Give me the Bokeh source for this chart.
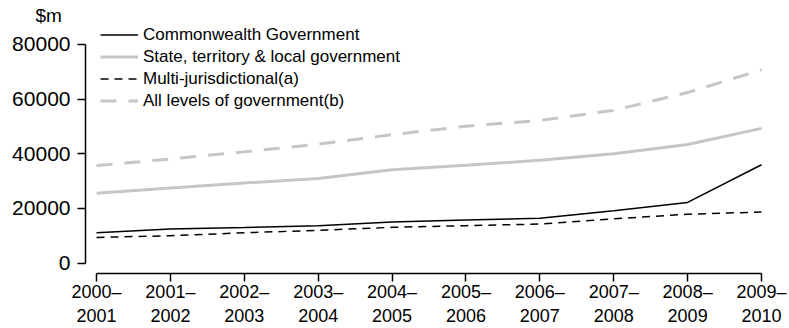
from bokeh.plotting import figure
from bokeh.models import (Range1d, FixedTicker, Legend, LegendItem,
                          ColumnDataSource)
from bokeh.embed import file_html
from bokeh.resources import INLINE

# ---- data ----
years = ["2000", "2001", "2002", "2003", "2004", "2005", "2006", "2007",
         "2008", "2009", "2010"]
periods = [f"{years[i]}–\n{years[i + 1]}" for i in range(10)]
commonwealth = [11100, 12500, 13000, 13700, 15000, 15800, 16400, 19200, 22200, 36000]
state_local = [25600, 27500, 29300, 31000, 34200, 35800, 37600, 40000, 43400, 49300]
multi_juris = [9400, 10000, 11100, 12000, 13100, 13700, 14300, 16200, 17900, 18700]
all_levels = [35700, 38100, 40700, 43500, 47000, 50100, 52200, 55900, 62400, 70700]
y_ticks = [0, 20000, 40000, 60000, 80000]
unit_label = "$m"
series_names = ["Commonwealth Government",
                "State, territory & local government",
                "Multi-jurisdictional(a)",
                "All levels of government(b)"]

xs = list(range(len(periods)))
src = ColumnDataSource(dict(x=xs, comm=commonwealth, state=state_local,
                            multi=multi_juris, alll=all_levels))

FONT = "Liberation Sans"
GRAY = "#c6c6c6"

p = figure(width=789, height=328, output_backend="svg", toolbar_location=None,
           x_range=Range1d(-0.149, 9.054), y_range=Range1d(-3800, 86940),
           min_border_left=85, min_border_right=24, min_border_top=25,
           min_border_bottom=40, title=unit_label)
p.outline_line_color = None
p.xgrid.visible = False
p.ygrid.visible = False
p.background_fill_color = "white"
p.border_fill_color = "white"

p.title.align = "left"
p.title.offset = -50
p.title.standoff = 0
p.title.text_font = FONT
p.title.text_font_size = "19px"
p.title.text_font_style = "normal"
p.title.text_color = "black"
p.title.vertical_align = "bottom"

r_all = p.line("x", "alll", source=src, line_color=GRAY, line_width=3,
               line_dash="16 12")
r_state = p.line("x", "state", source=src, line_color=GRAY, line_width=3)
r_multi = p.line("x", "multi", source=src, line_color="black", line_width=1.5,
                 line_dash="8 6")
r_comm = p.line("x", "comm", source=src, line_color="black", line_width=1.5)

# axes
yax = p.yaxis[0]
yax.ticker = FixedTicker(ticks=y_ticks)
yax.bounds = (y_ticks[0], y_ticks[-1])
yax.axis_line_color = "black"
yax.axis_line_width = 1.5
yax.major_tick_line_width = 1.5
yax.major_tick_in = 0
yax.major_tick_out = 8
yax.minor_tick_line_color = None
yax.major_label_standoff = 7
yax.major_label_text_font = FONT
yax.major_label_text_font_size = "21px"
yax.major_label_text_color = "black"

xax = p.xaxis[0]
xax.ticker = FixedTicker(ticks=xs)
xax.bounds = (xs[0], xs[-1])
xax.major_label_overrides = {i: lab for i, lab in zip(xs, periods)}
xax.axis_line_color = "black"
xax.axis_line_width = 1.5
xax.major_tick_line_width = 1.5
xax.major_tick_in = 0
xax.major_tick_out = 8
xax.minor_tick_line_color = None
xax.major_label_standoff = 0
xax.major_label_text_font = FONT
xax.major_label_text_font_size = "18px"
xax.major_label_text_color = "black"

legend = Legend(items=[LegendItem(label=series_names[0], renderers=[r_comm]),
                       LegendItem(label=series_names[1], renderers=[r_state]),
                       LegendItem(label=series_names[2], renderers=[r_multi]),
                       LegendItem(label=series_names[3], renderers=[r_all])],
                location=(15, 162), padding=0, margin=0, spacing=1,
                label_height=21, glyph_height=21, glyph_width=38,
                label_standoff=5, label_text_font=FONT,
                label_text_font_size="17px", label_text_color="black",
                border_line_color=None, background_fill_alpha=0)
p.add_layout(legend)

open("out.html", "w").write(file_html(p, INLINE))
